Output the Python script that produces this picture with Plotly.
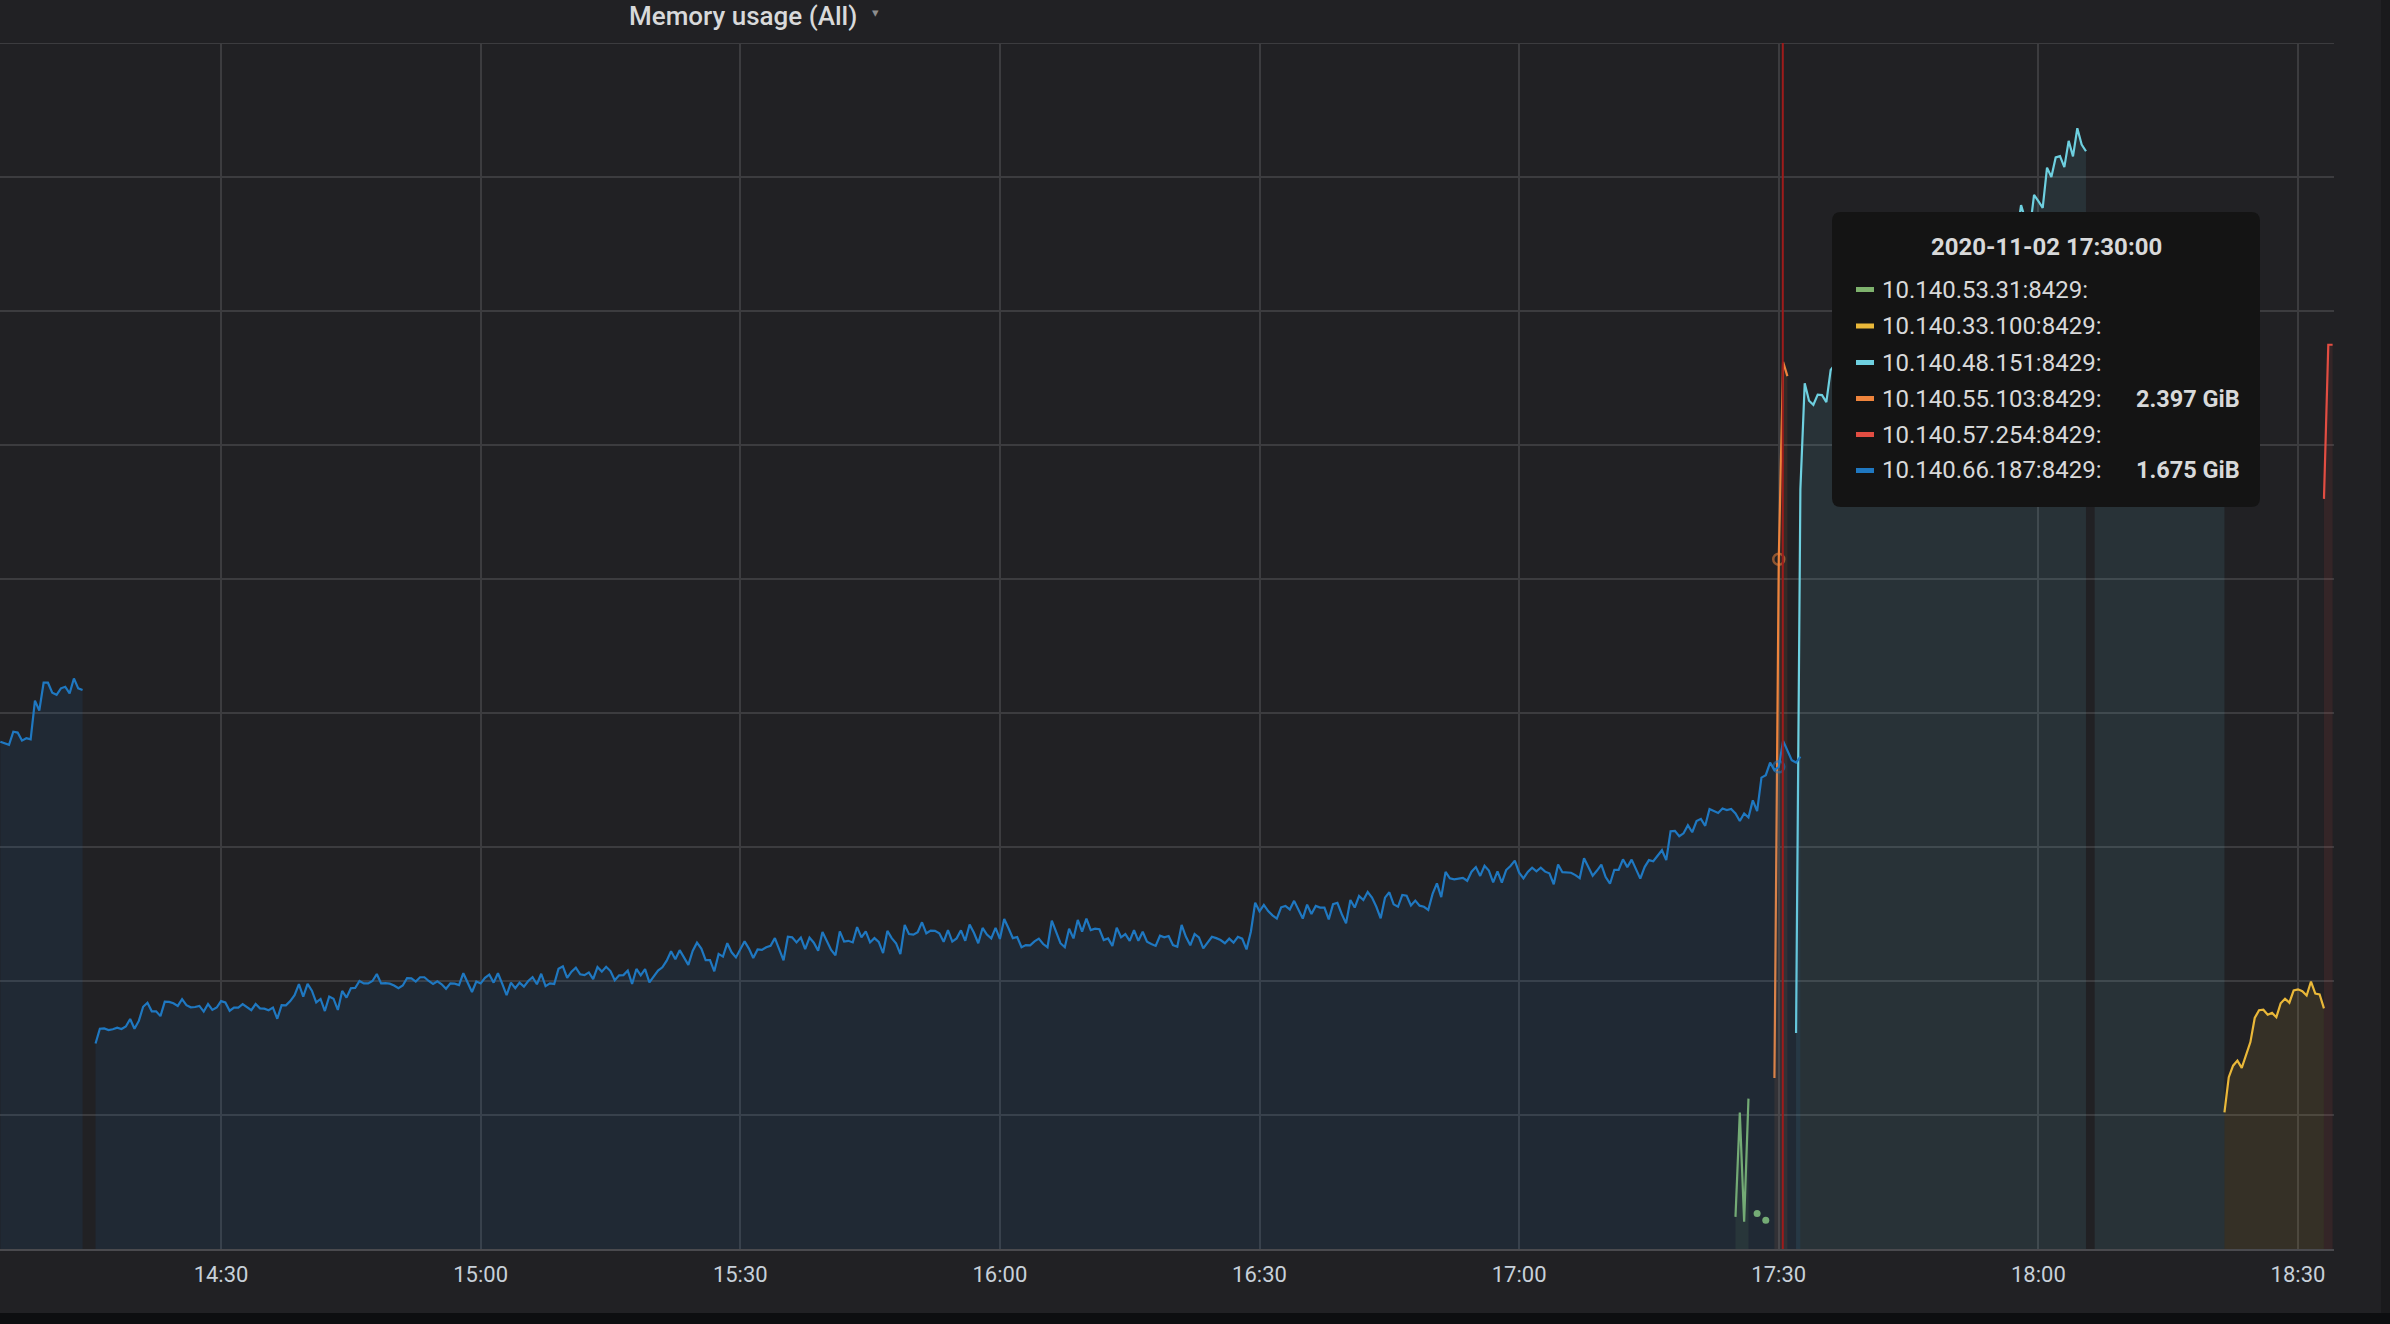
import pandas as pd
import plotly.graph_objects as go

DAY = "2020-11-02"
STEP = "30s"

# ---------------- data (memory usage in GB = 1e9 bytes, 30 s resolution) ----------------
series_names = ["10.140.53.31:8429", "10.140.33.100:8429", "10.140.48.151:8429",
                "10.140.55.103:8429", "10.140.57.254:8429", "10.140.66.187:8429"]
series_colors = ["#7EB26D", "#EAB839", "#6ED0E0", "#EF843C", "#E24D42", "#1F78C1"]

green_start = "17:25:00"
green_vals = [0.120, 0.509, 0.102, 0.561, None, 0.132, None, 0.107]

yellow_start = "18:21:30"
yellow_vals = [0.510, 0.641, 0.684, 0.703, 0.676, 0.724, 0.772, 0.862, 0.891, 0.893,
               0.874, 0.881, 0.865, 0.917, 0.934, 0.919, 0.965, 0.969, 0.962, 0.946,
               0.998, 0.953, 0.950, 0.898]

lightblue_start = "17:32:00"
lightblue_a = [0.806, 2.836, 3.230, 3.165, 3.150, 3.188, 3.186, 3.160, 3.280]
lightblue_b = [3.30, 3.27, 3.32, 3.30, 3.35, 3.33, 3.31, 3.36, 3.38, 3.35,
               3.40, 3.38, 3.42, 3.41, 3.39, 3.44, 3.46, 3.43, 3.48, 3.47,
               3.45, 3.50, 3.52, 3.49, 3.54, 3.53, 3.51, 3.56, 3.58, 3.55,
               3.60, 3.59, 3.62, 3.64, 3.61, 3.66, 3.68, 3.65, 3.70, 3.72,
               3.69, 3.74, 3.78]
lightblue_c = [3.895, 3.84, 3.80, 3.933, 3.91, 3.885, 4.035, 4.000, 4.073, 4.078,
               4.037, 4.135, 4.077, 4.182, 4.121, 4.096]
lightblue_d = [3.02, 3.08, 3.06, 3.11, 3.09, 3.14, 3.12, 3.17, 3.15, 3.19,
               3.18, 3.22, 3.20, 3.25, 3.23, 3.27, 3.26, 3.30, 3.28, 3.32,
               3.31, 3.35, 3.33, 3.37, 3.36, 3.40, 3.38, 3.42, 3.41, 3.44,
               3.45]

orange_start = "17:29:30"
orange_vals = [0.638, 2.574, 3.310, 3.257]

red_start = "18:33:00"
red_vals = [2.799, 3.374, 3.374]

blue_start_1 = "14:04:30"
blue_1 = [1.893, 1.887, 1.881, 1.930, 1.927, 1.897, 1.906, 1.902, 2.046, 2.009,
          2.113, 2.113, 2.076, 2.068, 2.092, 2.098, 2.073, 2.129, 2.092, 2.086]

blue_start_2 = "14:15:30"
blue_2a = [0.767, 0.822, 0.823, 0.817, 0.820, 0.826, 0.821, 0.830, 0.858, 0.822,
           0.851, 0.904, 0.919, 0.887, 0.887, 0.869, 0.923, 0.922, 0.917, 0.907,
           0.932, 0.910, 0.902, 0.903, 0.907, 0.886, 0.914, 0.892, 0.901, 0.925,
           0.920, 0.889, 0.901, 0.901, 0.914, 0.901, 0.891, 0.914, 0.898, 0.897,
           0.891, 0.901, 0.859, 0.910, 0.909, 0.925, 0.947, 0.988, 0.942, 0.989,
           0.964, 0.920, 0.933, 0.888, 0.942, 0.934, 0.892, 0.963, 0.938, 0.973,
           0.974, 1.000, 0.991, 0.991, 1.000, 1.026, 0.991, 0.992, 0.990, 0.983,
           0.973, 0.983, 1.011, 1.010, 0.998, 1.014, 1.014, 1.000, 0.989, 0.999,
           0.988, 0.971, 0.991, 0.990, 0.985, 1.029, 0.995, 0.959, 0.998, 0.991,
           1.012, 1.024, 0.994, 1.029, 0.989, 0.947, 0.994, 0.973, 0.994]
blue_2b = [0.979, 1.000, 1.014, 0.988, 1.027, 0.981, 0.991, 0.989, 1.046, 1.055,
           1.012, 1.035, 1.050, 1.025, 1.022, 1.032, 1.007, 1.052, 1.035, 1.053,
           1.037, 1.003, 1.021, 1.022, 1.039, 0.989, 1.045, 1.021, 1.044, 0.995,
           1.016, 1.039, 1.051, 1.076, 1.111, 1.081, 1.115, 1.088, 1.060, 1.112,
           1.143, 1.121, 1.078, 1.078, 1.036, 1.101, 1.091, 1.141, 1.107, 1.088,
           1.119, 1.148, 1.121, 1.086, 1.118, 1.116, 1.126, 1.131, 1.160, 1.117,
           1.077, 1.165, 1.163, 1.144, 1.162, 1.119, 1.162, 1.143, 1.113, 1.183,
           1.150, 1.116, 1.096, 1.185, 1.147, 1.150, 1.144, 1.201, 1.163, 1.185,
           1.144, 1.160, 1.146, 1.104, 1.187, 1.160, 1.141, 1.100, 1.209, 1.175,
           1.173, 1.182, 1.219, 1.178, 1.188, 1.187, 1.178, 1.146, 1.190, 1.147,
           1.159, 1.189, 1.150, 1.211, 1.180, 1.141, 1.198, 1.173, 1.159, 1.198,
           1.157, 1.231, 1.197, 1.160, 1.164, 1.126, 1.134, 1.133, 1.148, 1.158]
blue_2c = [1.138, 1.126, 1.225, 1.184, 1.141, 1.126, 1.195, 1.159, 1.228, 1.184,
           1.233, 1.190, 1.195, 1.193, 1.153, 1.159, 1.131, 1.199, 1.163, 1.175,
           1.150, 1.190, 1.150, 1.184, 1.147, 1.138, 1.131, 1.169, 1.163, 1.168,
           1.134, 1.128, 1.209, 1.165, 1.133, 1.175, 1.163, 1.122, 1.146, 1.165,
           1.160, 1.153, 1.141, 1.158, 1.143, 1.165, 1.158, 1.118, 1.184, 1.292,
           1.260, 1.284, 1.261, 1.245, 1.233, 1.275, 1.280, 1.267, 1.299, 1.265,
           1.233, 1.285, 1.250, 1.280, 1.274, 1.274, 1.230, 1.287, 1.292, 1.250,
           1.215, 1.302, 1.274, 1.317, 1.302, 1.332, 1.311, 1.277, 1.234, 1.311,
           1.331, 1.286, 1.277, 1.321, 1.318, 1.282, 1.300, 1.281, 1.277, 1.265,
           1.325, 1.364, 1.313, 1.407, 1.383, 1.379, 1.383, 1.385, 1.374, 1.408,
           1.425, 1.392, 1.430, 1.412, 1.368, 1.409, 1.367, 1.414, 1.429, 1.449,
           1.404, 1.383, 1.407, 1.423, 1.409, 1.423, 1.408, 1.402, 1.361, 1.435]
blue_2d = [1.406, 1.406, 1.404, 1.395, 1.384, 1.458, 1.425, 1.393, 1.412, 1.434,
           1.388, 1.363, 1.415, 1.415, 1.454, 1.425, 1.453, 1.415, 1.382, 1.425,
           1.451, 1.447, 1.468, 1.488, 1.451, 1.559, 1.560, 1.540, 1.551, 1.581,
           1.555, 1.597, 1.605, 1.579, 1.642, 1.634, 1.627, 1.644, 1.638, 1.642,
           1.625, 1.597, 1.625, 1.610, 1.674, 1.634, 1.759, 1.768, 1.815, 1.787,
           1.799, 1.896, 1.861, 1.824, 1.815, 1.837]

hover_time = "17:30:00"
crosshair_time = "17:30:28"
x_range = ["14:04:27.6", "18:34:09.6"]
y_max = 4.5
y_step = 0.5
panel_title = "Memory usage (All)"

# ---------------- assemble series ----------------
series = [
    (green_start, green_vals),
    (yellow_start, yellow_vals),
    (lightblue_start, lightblue_a + lightblue_b + lightblue_c + [None] + lightblue_d),
    (orange_start, orange_vals),
    (red_start, red_vals),
    (blue_start_1, blue_1 + [None, None, None]),
]
blue_main = (blue_start_2, blue_2a + blue_2b + blue_2c + blue_2d)


def stamp(hms):
    return pd.Timestamp(f"{DAY} {hms}")


def times(start, n):
    return pd.date_range(stamp(start), periods=n, freq=STEP)


def rgba(hex_color, a):
    h = hex_color.lstrip("#")
    r, g, b = int(h[0:2], 16), int(h[2:4], 16), int(h[4:6], 16)
    return f"rgba({r},{g},{b},{a})"


BG = "#212124"
GRID = "#3c3c3f"
TEXT = "#d8d9da"
FONT = "Roboto"

fig = go.Figure()


def add_series(color, start, vals):
    ts = times(start, len(vals))
    runs, cur = [], []
    for t, v in zip(ts, vals):
        if v is None:
            if cur:
                runs.append(cur)
            cur = []
        else:
            cur.append((t, v))
    if cur:
        runs.append(cur)
    for run in runs:
        xs = [r[0] for r in run]
        ys = [r[1] for r in run]
        if len(run) == 1:
            fig.add_trace(go.Scatter(x=xs, y=ys, mode="markers",
                                     marker=dict(color=color, size=7, line=dict(width=0)),
                                     hoverinfo="skip"))
        else:
            fig.add_trace(go.Scatter(x=xs, y=ys, mode="lines",
                                     line=dict(color=color, width=2.2),
                                     fill="tozeroy", fillcolor=rgba(color, 0.1),
                                     hoverinfo="skip"))


all_series = []
for i, (start, vals) in enumerate(series):
    col = series_colors[i]
    add_series(col, start, vals)
    all_series.append([(start, vals)])
add_series(series_colors[5], *blue_main)
all_series[5].append(blue_main)


def value_at(parts, hms):
    t = stamp(hms)
    for start, vals in parts:
        ts = times(start, len(vals))
        for tt, v in zip(ts, vals):
            if tt == t and v is not None:
                return v
    return None


hover_vals = [value_at(p, hover_time) for p in all_series]

# hover point markers
for i, v in enumerate(hover_vals):
    if v is not None:
        fig.add_trace(go.Scatter(x=[stamp(hover_time)], y=[v], mode="markers",
                                 marker=dict(symbol="circle-open", size=11,
                                             color=rgba(series_colors[i], 0.55),
                                             line=dict(width=2.5, color=rgba(series_colors[i], 0.55))),
                                 hoverinfo="skip"))

# ---------------- layout helpers (pixel -> paper) ----------------
W, H = 2390, 1324
PL, PR, PT, PB = 0, 2334, 43, 1249


def px(x):
    return (x - PL) / (PR - PL)


def py(y):
    return (PB - y) / (PB - PT)


shapes = []
annotations = []

# top grid line
shapes.append(dict(type="line", xref="paper", yref="y", x0=0, x1=1, y0=y_max, y1=y_max,
                   line=dict(color=GRID, width=2), layer="below"))
# crosshair
shapes.append(dict(type="line", xref="x", yref="paper", x0=stamp(crosshair_time), x1=stamp(crosshair_time),
                   y0=0, y1=1, line=dict(color="#9e1b1b", width=2), layer="above"))

# outer frame strips
shapes.append(dict(type="rect", xref="paper", yref="paper", x0=px(2381), x1=px(2400), y0=py(-10), y1=py(1330),
                   fillcolor="#1a1a1c", line=dict(width=0), layer="below"))
shapes.append(dict(type="rect", xref="paper", yref="paper", x0=px(-10), x1=px(2400), y0=py(1313), y1=py(1330),
                   fillcolor="#0d0e10", line=dict(width=0), layer="below"))

# tooltip box (rounded)
tx0, tx1, ty0, ty1, r = 1832, 2260, 212, 507, 9
rx, ry = r / (PR - PL), r / (PB - PT)
X0, X1, Y0, Y1 = px(tx0), px(tx1), py(ty1), py(ty0)
path = (f"M {X0+rx},{Y0} L {X1-rx},{Y0} Q {X1},{Y0} {X1},{Y0+ry} "
        f"L {X1},{Y1-ry} Q {X1},{Y1} {X1-rx},{Y1} L {X0+rx},{Y1} "
        f"Q {X0},{Y1} {X0},{Y1-ry} L {X0},{Y0+ry} Q {X0},{Y0} {X0+rx},{Y0} Z")
shapes.append(dict(type="path", xref="paper", yref="paper", path=path,
                   fillcolor="#141414", line=dict(width=0), layer="above"))

annotations.append(dict(xref="paper", yref="paper", x=px(2046), y=py(246.5),
                        text=f"<b>{DAY} {hover_time}</b>", showarrow=False,
                        xanchor="center", yanchor="middle",
                        font=dict(family=FONT, size=24, color=TEXT)))

row_y = [289.5, 326, 362.5, 398.5, 434.5, 470.5]
for i, name in enumerate(series_names):
    yc = row_y[i]
    shapes.append(dict(type="rect", xref="paper", yref="paper",
                       x0=px(1856), x1=px(1874), y0=py(yc + 2.5), y1=py(yc - 2.5),
                       fillcolor=series_colors[i], line=dict(width=0), layer="above"))
    annotations.append(dict(xref="paper", yref="paper", x=px(1880), y=py(yc),
                            text=f"{name}:", showarrow=False, xanchor="left", yanchor="middle",
                            font=dict(family=FONT, size=24, color=TEXT)))
    v = hover_vals[i]
    if v is not None:
        annotations.append(dict(xref="paper", yref="paper", x=px(2242), y=py(yc),
                                text=f"<b>{v * 1e9 / 2**30:.3f} GiB</b>", showarrow=False,
                                xanchor="right", yanchor="middle",
                                font=dict(family=FONT, size=23.5, color=TEXT)))

# panel title (near the top edge of the picture)
annotations.append(dict(xref="paper", yref="paper", x=px(627), y=py(16),
                        text=panel_title, showarrow=False, xanchor="left", yanchor="middle",
                        font=dict(family=FONT, size=26, color=TEXT, weight=500)))
annotations.append(dict(xref="paper", yref="paper", x=px(875), y=py(12),
                        text="▾", showarrow=False, xanchor="center", yanchor="middle",
                        font=dict(family=FONT, size=13, color="#8e8e8e")))

fig.update_layout(
    width=W, height=H,
    margin=dict(l=PL, r=W - PR, t=PT, b=H - PB, pad=0),
    paper_bgcolor=BG, plot_bgcolor=BG,
    showlegend=False, hovermode=False,
    shapes=shapes, annotations=annotations,
    xaxis=dict(type="date", range=[stamp(x_range[0]), stamp(x_range[1])],
               tick0=stamp("14:30:00"), dtick=30 * 60 * 1000, tickformat="%H:%M",
               showgrid=True, gridcolor=GRID, gridwidth=2,
               showline=True, linecolor="#4a4a4e", linewidth=2,
               ticks="", ticklabelstandoff=5,
               tickfont=dict(family=FONT, size=22, color="#c7d0d9"),
               zeroline=False, fixedrange=True),
    yaxis=dict(range=[0, y_max], dtick=y_step, tick0=0, showticklabels=False,
               showgrid=True, gridcolor=GRID, gridwidth=2, zeroline=False,
               ticks="", fixedrange=True),
)

fig.write_html("out.html")
